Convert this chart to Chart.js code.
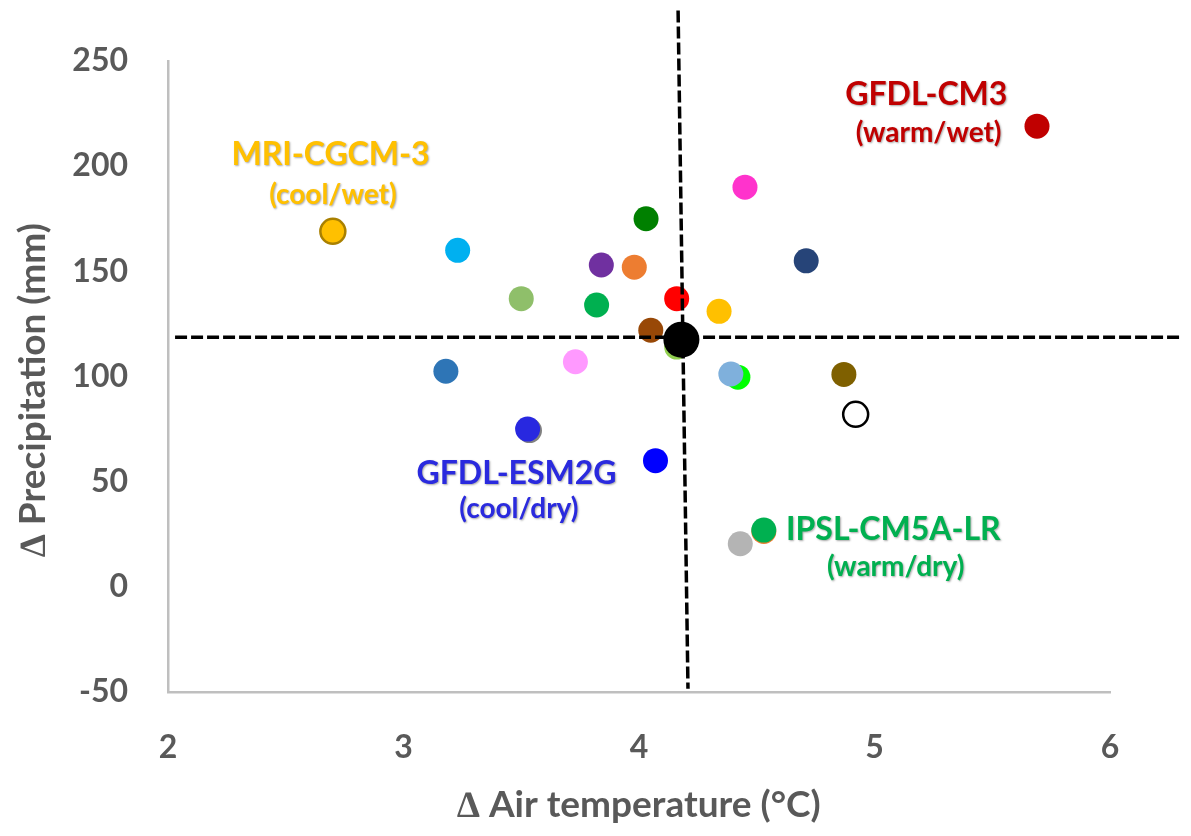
<!DOCTYPE html>
<html lang="en">
<head>
  <meta charset="UTF-8" />
  <title>Climate model projections</title>
  <script src="https://cdn.jsdelivr.net/npm/chart.js"></script>
  <style>
    html, body { margin: 0; padding: 0; background: #fff; }
    #wrap { width: 1191px; height: 836px; }
  </style>
</head>
<body>
  <div id="wrap"><canvas id="scatter" width="1191" height="836"></canvas></div>

  <script>
    // model projections: change in air temperature (°C) and precipitation (mm)
    const airTemp = [3.23, 3.50, 3.82, 3.84, 3.98, 4.03, 4.45, 4.71, 4.16, 4.34, 4.05, 4.16, 3.73,
                     3.18, 4.42, 4.39, 4.87, 4.92, 3.535, 3.527, 4.07, 2.70, 5.69, 4.53, 4.43, 4.53];
    const precip  = [160, 137, 134, 153, 152, 175, 190, 155, 137, 131, 122, 114, 107,
                     102.5, 99.7, 101.2, 101, 82, 74.3, 75, 60, 169, 219, 26.3, 20.5, 27];
    const pointColors = ['#00b0f0', '#8fbf6a', '#00b050', '#7030a0', '#ed7d31', '#008000', '#ff33cc',
                         '#264478', '#ff0000', '#ffc000', '#984807', '#92d050', '#ff99ff', '#2e75b6',
                         '#00ff00', '#7fb0dc', '#7f6000', '#ffffff', '#808080', '#2828e0', '#0000ff',
                         '#ffc000', '#c00000', '#ed7d31', '#b4b4b4', '#00b050'];
    const pointBorders = pointColors.map((c, i) => i === 17 ? '#000000' : (i === 21 ? '#a98000' : c));

    // ensemble mean
    const meanTemp = [4.18];
    const meanPrecip = [117.5];

    // dashed reference lines through the ensemble mean
    const hLineX = [2.03, 6.30];
    const hLineY = [118.65, 118.65];
    const vLineX = [4.166, 4.208];
    const vLineY = [274, -48.5];

    // annotations
    const labelText  = ['MRI-CGCM-3', '(cool/wet)', 'GFDL-CM3', '(warm/wet)',
                        'GFDL-ESM2G', '(cool/dry)', 'IPSL-CM5A-LR', '(warm/dry)'];
    const labelX     = [2.69, 2.70, 5.22, 5.23, 3.48, 3.49, 5.08, 5.09];
    const labelY     = [205.5, 186.5, 234, 215.6, 53.6, 37, 27, 9.5];
    const labelColor = ['#ffc000', '#ffc000', '#c00000', '#c00000', '#2a2ade', '#2a2ade', '#00b050', '#00b050'];
    const labelBig   = [true, false, true, false, true, false, true, false];

    const toXY = (xs, ys) => xs.map((x, i) => ({ x: x, y: ys[i] }));

    const labelPlugin = {
      id: 'modelLabels',
      afterDatasetsDraw(chart) {
        const ctx = chart.ctx;
        const xs = chart.scales.x, ys = chart.scales.y;
        ctx.save();
        ctx.textAlign = 'center';
        ctx.textBaseline = 'middle';
        ctx.shadowColor = 'rgba(0,0,0,0.35)';
        ctx.shadowBlur = 2;
        ctx.shadowOffsetX = 1;
        ctx.shadowOffsetY = 1;
        labelText.forEach((t, i) => {
          ctx.font = labelBig[i] ? 'bold 32px Lato' : 'bold 28px Lato';
          ctx.fillStyle = labelColor[i];
          ctx.fillText(t, xs.getPixelForValue(labelX[i]), ys.getPixelForValue(labelY[i]));
        });
        ctx.restore();
      }
    };

    const dashed = {
      type: 'line',
      showLine: true,
      borderColor: '#000000',
      borderWidth: 3.5,
      borderDash: [12, 4],
      pointRadius: 0,
      fill: false,
      clip: false,
      order: 2
    };

    new Chart(document.getElementById('scatter'), {
      type: 'scatter',
      data: {
        datasets: [
          {
            data: toXY(airTemp, precip),
            pointRadius: 12.5,
            pointHoverRadius: 12.5,
            pointBackgroundColor: pointColors,
            pointBorderColor: pointBorders,
            pointBorderWidth: pointColors.map((c, i) => (i === 17 || i === 21) ? 2.5 : 0),
            order: 3
          },
          Object.assign({ data: toXY(hLineX, hLineY) }, dashed),
          Object.assign({ data: toXY(vLineX, vLineY) }, dashed),
          {
            data: toXY(meanTemp, meanPrecip),
            pointRadius: 18,
            pointHoverRadius: 18,
            pointBackgroundColor: '#000000',
            pointBorderWidth: 0,
            order: 1
          }
        ]
      },
      options: {
        responsive: false,
        animation: false,
        layout: { padding: { left: 0, right: 81, top: 61, bottom: 0 } },
        plugins: { legend: { display: false }, tooltip: { enabled: false } },
        scales: {
          x: {
            type: 'linear',
            min: 2, max: 6,
            grid: { display: false, drawTicks: false },
            border: { display: true, color: '#bfbfbf', width: 2.5 },
            ticks: { stepSize: 1, padding: 36, color: '#595959', font: { family: 'Lato', size: 32, weight: 'bold' } },
            title: {
              display: true, text: '\u2206 Air temperature (\u00B0C)', color: '#595959',
              font: { family: 'Lato', size: 37, weight: 'bold' }, padding: { top: 0, bottom: 9 }
            },
            afterFit(scale) { scale.height = 144; }
          },
          y: {
            type: 'linear',
            min: -50, max: 250,
            grid: { display: false, drawTicks: false },
            border: { display: true, color: '#bfbfbf', width: 2.5 },
            ticks: { stepSize: 50, padding: 40, color: '#595959', font: { family: 'Lato', size: 32, weight: 'bold' } },
            title: {
              display: true, text: '\u2206 Precipitation (mm)\u00a0\u00a0\u00a0', color: '#595959',
              font: { family: 'Lato', size: 37, weight: 'bold' }, padding: { top: 11, bottom: 0 }
            },
            afterFit(scale) { scale.width = 168; }
          }
        }
      },
      plugins: [labelPlugin]
    });
  </script>
</body>
</html>
